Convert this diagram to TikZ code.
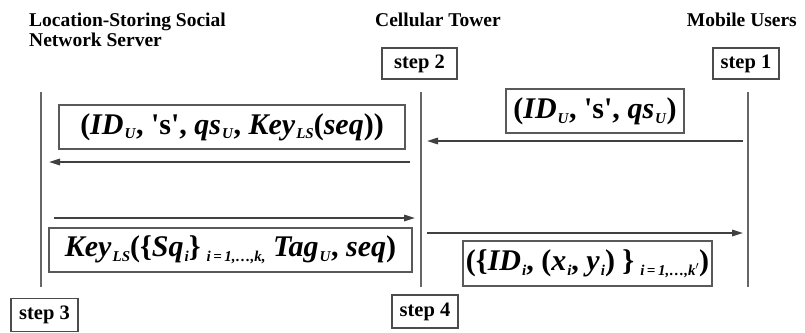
\documentclass[tikz,border=0pt]{standalone}
\usepackage{fontspec}
\setmainfont{Liberation Serif}
\usetikzlibrary{arrows.meta}
\newcommand{\mI}[1]{\textit{#1}}
\newcommand{\sbX}[1]{\kern1pt\raisebox{-0.35ex}{\fontsize{15}{15}\selectfont\textit{#1}}}
\newcommand{\qT}{\textquotesingle}
\tikzset{
  lifeline/.style={draw=black!60, line width=1.8pt},
  msgarrow/.style={draw=black!75, line width=1.6pt, -{Triangle[length=11pt,width=6.5pt]}},
  msgbox/.style={draw=black!65, line width=1.4pt, inner sep=0pt, minimum height=44pt,
    font=\fontsize{30}{32}\selectfont\bfseries},
  stepbox/.style={draw=black!70, line width=1.3pt, inner sep=0pt, minimum height=31pt,
    font=\fontsize{20.5}{22}\selectfont\bfseries},
  title/.style={inner sep=0pt, font=\fontsize{19.5}{20}\selectfont\bfseries}
}
\begin{document}
\begin{tikzpicture}[x=1pt,y=-1pt]
\useasboundingbox (0,0) rectangle (805,332);
% titles
\node[title, anchor=base west] (tls) at (29,26) {Location-Storing Social};
\node[title, anchor=base west] (tns) at (29,46) {Network Server};
\node[title, anchor=base west] (tct) at (375,27) {Cellular Tower};
\node[title, anchor=base east] (tmu) at (797,27) {Mobile Users};
% step boxes
\node[stepbox, minimum width=75pt] (s2) at (419.5,63.5) {step 2};
\node[stepbox, minimum width=66pt] (s1) at (746,63.5) {step 1};
\node[stepbox, minimum width=67pt, minimum height=33pt] (s3) at (44.5,315) {step 3};
\node[stepbox, minimum width=66pt, minimum height=33pt] (s4) at (425,311.5) {step 4};
% lifelines
\coordinate (Lt) at (41,92);  \coordinate (Lb) at (41,287);
\coordinate (Ct) at (421,92); \coordinate (Cb) at (421,287);
\coordinate (Mt) at (748,92); \coordinate (Mb) at (748,287);
\draw[lifeline] (Lt) -- (Lb);
\draw[lifeline] (Ct) -- (Cb);
\draw[lifeline] (Mt) -- (Mb);
% message boxes
\node[msgbox, minimum width=178pt] (m1) at (595,111)
  {(\mI{ID}\sbX{U}, \qT s\qT, \mI{qs}\sbX{U})};
\node[msgbox, minimum width=346pt] (m2) at (232,127)
  {(\mI{ID}\sbX{U}, \qT s\qT, \mI{qs}\sbX{U}, \mI{Key}\sbX{LS}(\mI{seq}))};
\node[msgbox, minimum width=363pt] (m3) at (230.5,250)
  {\mI{Key}\sbX{LS}(\{\mI{Sq}\sbX{i}\}\,\sbX{i\,=\,1,\dots,k,} \mI{Tag}\sbX{U}, \mI{seq})};
\node[msgbox, minimum width=249pt, minimum height=45pt] (m4) at (587.5,263.5)
  {(\{\mI{ID}\sbX{i}, (\mI{x}\sbX{i}, \mI{y}\sbX{i}) \}\,\sbX{i\,=\,1,\dots,k$'$})};
% arrows
\coordinate (a1s) at (743,141); \coordinate (a1e) at (427,141);
\coordinate (a2s) at (410,162); \coordinate (a2e) at (49,162);
\coordinate (a3s) at (54,218);  \coordinate (a3e) at (415,218);
\coordinate (a4s) at (427,233); \coordinate (a4e) at (743,233);
\draw[msgarrow] (a1s) -- (a1e);
\draw[msgarrow] (a2s) -- (a2e);
\draw[msgarrow] (a3s) -- (a3e);
\draw[msgarrow] (a4s) -- (a4e);
\end{tikzpicture}
\end{document}
